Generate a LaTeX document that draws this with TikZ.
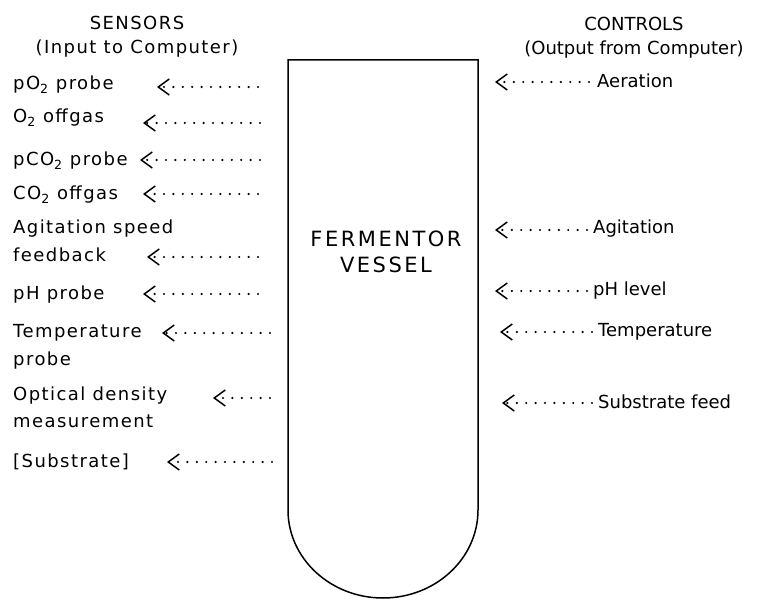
\documentclass[tikz,border=0pt]{standalone}
\usepackage{fontspec}
\setmainfont{DejaVu Sans}
\newfontfamily\widefont[LetterSpace=8]{DejaVu Sans}
\newfontfamily\vesselfont[LetterSpace=12]{DejaVu Sans}
\usetikzlibrary{arrows.meta}

\tikzset{
  ctl/.style={font=\fontsize{18}{28}\selectfont,inner sep=0pt,align=left,anchor=base west},
  lbl/.style={ctl,font=\widefont\fontsize{18}{28}\selectfont},
  head/.style={font=\widefont\fontsize{18}{24}\selectfont,inner sep=0pt,align=center,anchor=base},
  sig/.style={line width=2.4pt,line cap=round,dash pattern=on 0pt off 9.4pt,
    -{Straight Barb[length=11pt,width=16pt,line width=1.5pt]}},
}

\begin{document}
\begin{tikzpicture}[x=1pt,y=-1pt]
\useasboundingbox (0,0) rectangle (763,601);
\draw[line width=1.5pt] (288,60) -- (478,60) -- (478,510)
  arc[start angle=0,end angle=-180,x radius=95pt,y radius=88pt] -- cycle;
\node[font=\vesselfont\fontsize{21}{26}\selectfont,align=center,inner sep=0pt,anchor=base] (vessel) at (386,273) {FERMENTOR\\VESSEL};
\node[head] (sensors) at (137,54) {SENSORS\\(Input to Computer)};
\node[head,font=\fontsize{18}{24}\selectfont] (controls) at (634,55) {CONTROLS\\(Output from Computer)};
% sensors (multi-line labels sit on their last baseline)
\node[lbl] (po2) at (13,90) {pO\textsubscript{2} probe};
\node[lbl] (o2) at (13,123) {O\textsubscript{2} offgas};
\node[lbl] (pco2) at (13,166) {pCO\textsubscript{2} probe};
\node[lbl] (co2) at (13,200) {CO\textsubscript{2} offgas};
\node[lbl] (agit) at (13,262) {Agitation speed\\feedback};
\node[lbl] (ph) at (13,300) {pH probe};
\node[lbl] (temp) at (13,366) {Temperature\\probe};
\node[lbl] (od) at (13,428) {Optical density\\measurement};
\node[lbl] (subs) at (13,467) {[Substrate]};
\coordinate (po2 tip) at (157,87);  \coordinate (po2 end) at (258,87);
\coordinate (o2 tip) at (143,123);  \coordinate (o2 end) at (260,123);
\coordinate (pco2 tip) at (140,160); \coordinate (pco2 end) at (260,160);
\coordinate (co2 tip) at (143,194); \coordinate (co2 end) at (258,194);
\coordinate (agit tip) at (147,257); \coordinate (agit end) at (258,257);
\coordinate (ph tip) at (143,294);  \coordinate (ph end) at (258,294);
\coordinate (temp tip) at (162,333); \coordinate (temp end) at (270,333);
\coordinate (od tip) at (213,398);  \coordinate (od end) at (270,398);
\coordinate (subs tip) at (167,462); \coordinate (subs end) at (272,462);
\draw[sig] (po2 end) -- (po2 tip);
\draw[sig] (o2 end) -- (o2 tip);
\draw[sig] (pco2 end) -- (pco2 tip);
\draw[sig] (co2 end) -- (co2 tip);
\draw[sig] (agit end) -- (agit tip);
\draw[sig] (ph end) -- (ph tip);
\draw[sig] (temp end) -- (temp tip);
\draw[sig] (od end) -- (od tip);
\draw[sig] (subs end) -- (subs tip);
% controls
\node[ctl] (aer) at (597,88) {Aeration};
\node[ctl] (agc) at (593,234) {Agitation};
\node[ctl] (phc) at (593,296) {pH level};
\node[ctl] (tempc) at (598,337) {Temperature};
\node[ctl] (feed) at (598,409) {Substrate feed};
\coordinate (aer tip) at (495,82);   \coordinate (aer end) at (589,82);
\coordinate (agc tip) at (495,230);  \coordinate (agc end) at (587,230);
\coordinate (phc tip) at (495,291);  \coordinate (phc end) at (587,291);
\coordinate (tempc tip) at (500,332); \coordinate (tempc end) at (592,332);
\coordinate (feed tip) at (502,403); \coordinate (feed end) at (592,403);
\draw[sig] (aer end) -- (aer tip);
\draw[sig] (agc end) -- (agc tip);
\draw[sig] (phc end) -- (phc tip);
\draw[sig] (tempc end) -- (tempc tip);
\draw[sig] (feed end) -- (feed tip);
\end{tikzpicture}
\end{document}
